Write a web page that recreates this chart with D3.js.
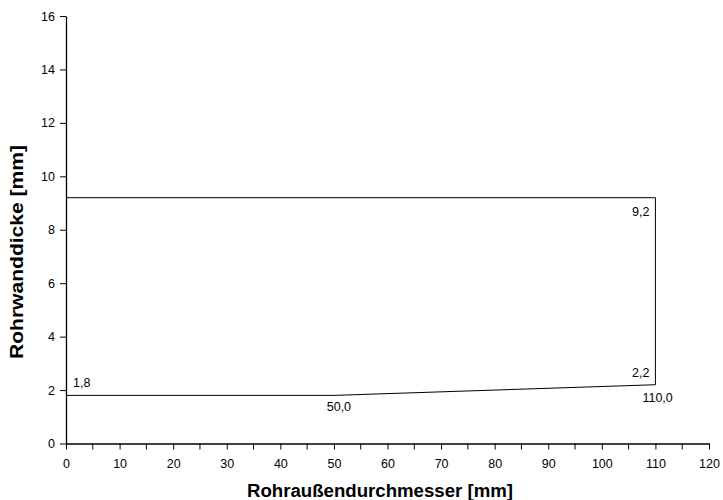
<!DOCTYPE html>
<html><head><meta charset="utf-8">
<script src="https://cdn.jsdelivr.net/npm/d3@7"></script>
<style>body{margin:0;background:#fff}svg{display:block}text{font-family:"Liberation Sans",Arial,sans-serif}</style>
</head><body><svg id="c" width="723" height="500"></svg>
<script>
const xs = [0, 50, 110, 110, 0];
const ys = [1.8, 1.8, 2.2, 9.2, 9.2];
const labels = [
  {x:0, y:1.8, t:"1,8", dx:7, dy:-8, a:"start"},
  {x:50, y:1.8, t:"50,0", dx:5, dy:16, a:"middle"},
  {x:110, y:2.2, t:"2,2", dx:-6, dy:-8, a:"end"},
  {x:110, y:2.2, t:"110,0", dx:-13, dy:17, a:"start"},
  {x:110, y:9.2, t:"9,2", dx:-6, dy:18, a:"end"}
];
const xTicks = d3.range(0, 121, 10);
const xMinor = d3.range(5, 120, 10);
const yTicks = d3.range(0, 17, 2);
const xTitle = "Rohraußendurchmesser [mm]";
const yTitle = "Rohrwanddicke [mm]";

const svg = d3.select("#c");
const x = d3.scaleLinear().domain([0,120]).range([66,709]);
const y = d3.scaleLinear().domain([0,16]).range([443.5,16]);

const gx = svg.append("g").attr("transform","translate(0,443.5)")
  .call(d3.axisBottom(x).tickValues(xTicks).tickSize(6).tickPadding(10).tickSizeOuter(0));
gx.append("g").selectAll("line").data(xMinor).join("line")
  .attr("x1",d=>x(d)).attr("x2",d=>x(d)).attr("y1",0).attr("y2",6).attr("stroke","#000");
const gy = svg.append("g").attr("transform","translate(66,0)")
  .call(d3.axisLeft(y).tickValues(yTicks).tickSize(6).tickPadding(5).tickSizeOuter(0));
[gx,gy].forEach(g=>{
  g.select(".domain").attr("stroke","#000").attr("stroke-width",1.3);
  g.selectAll(".tick line").attr("stroke","#000");
  g.selectAll(".tick text").attr("font-size",12.5).attr("fill","#000").attr("font-family","'Liberation Sans',Arial,sans-serif");
});

const pts = xs.map((d,i)=>[d, ys[i]]);
svg.append("path").attr("d", d3.line().x(d=>x(d[0])).y(d=>y(d[1]))(pts))
  .attr("fill","none").attr("stroke","#000").attr("stroke-width",1);

svg.append("g").selectAll("text").data(labels).join("text")
  .attr("x",d=>x(d.x)+d.dx).attr("y",d=>y(d.y)+d.dy)
  .attr("text-anchor",d=>d.a).attr("font-size",12.5).attr("fill","#000").text(d=>d.t);

svg.append("text").attr("x",380).attr("y",497).attr("text-anchor","middle")
  .attr("font-size",18).attr("font-weight","bold")
  .attr("textLength",266).attr("lengthAdjust","spacingAndGlyphs").text(xTitle);
svg.append("text").attr("transform","translate(23,252) rotate(-90)").attr("text-anchor","middle")
  .attr("font-size",18).attr("font-weight","bold")
  .attr("textLength",214).attr("lengthAdjust","spacingAndGlyphs").text(yTitle);
</script></body></html>
